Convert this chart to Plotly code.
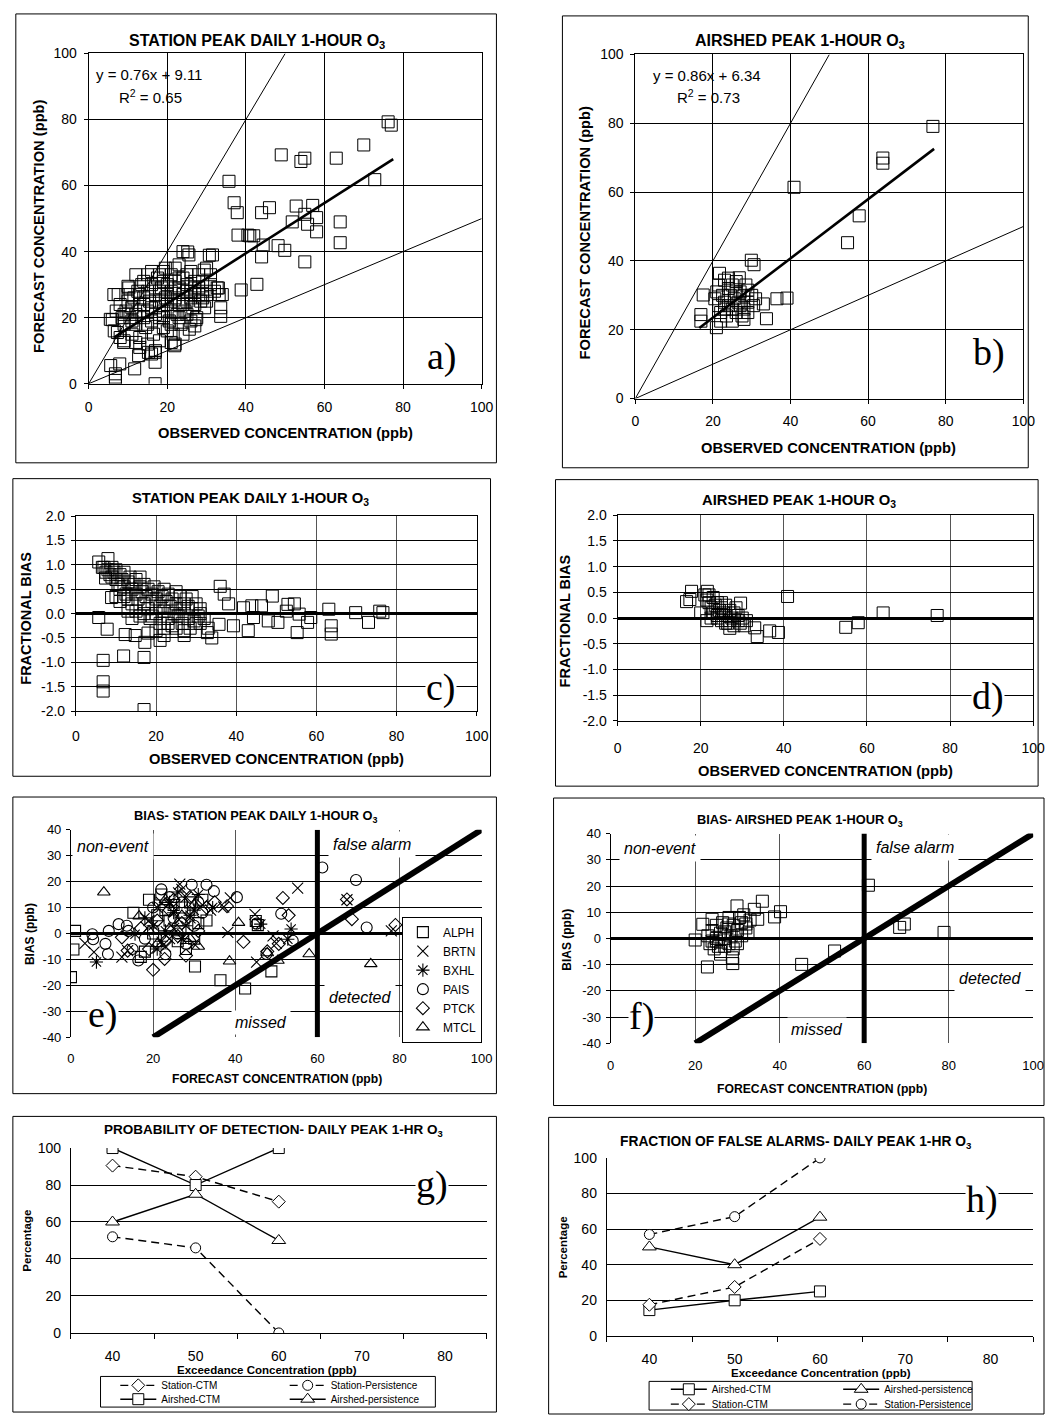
import plotly.graph_objects as go

W, H = 1057, 1423
FONT = "Liberation Sans"
SERIF = "Liberation Serif"

# ===================== DATA =====================
# (a) station peak daily 1-hour O3: (observed, forecast) in ppb
station_obs_fcst = [
    (76.2, 79.3), (77, 78.3), (70, 72.3), (72.8, 61.8), (49, 69.3), (54, 67.3), (55, 68.3),
    (63, 68.3), (35.7, 61.3), (37, 54.8), (37.8, 51.8), (44, 51.8), (46, 53.3), (52.8, 53.8),
    (57, 54), (51.8, 49), (55, 51.3), (55.7, 48.3), (58, 50.3), (58, 46), (64, 49), (64, 42.7),
    (38, 45), (40.5, 45), (41, 44.8), (42, 44.8), (44.4, 42), (48.2, 41.8), (49.9, 40.4),
    (44, 38.4), (55, 36.9), (42.8, 30.1), (38.8, 28.4), (30.7, 38.9), (25.2, 39.9), (33.2, 27),
    (33.6, 23), (33.6, 20.4), (32.7, 29), (29.4, 34.4), (6.8, 1), (6.8, 2), (6.8, 3), (5.6, 5.5),
    (7.9, 6), (11.7, 4.5), (12.7, 8.5), (15.2, 9.5), (16.9, 9.5), (16.9, 6.5), (16.9, 0),
    (8.9, 12.5), (6.4, 27), (6, 19.4), (7.3, 15.5), (21.9, 11.5), (21, 12.5), (10.2, 29),
    (25.6, 16.5), (27.3, 19.4),
    (5.5, 19.5), (6.5, 16), (7.5, 27), (7, 22), (8, 24), (8.5, 20), (9, 18), (9.5, 22), (10, 25),
    (10, 29.5), (10.5, 20), (11, 15), (11, 23), (11.5, 26), (12, 18), (12, 21), (12.5, 28),
    (13, 24), (13, 14), (13.5, 30), (14, 20), (14, 26), (14.5, 17), (15, 22), (15, 28), (15, 33),
    (15.5, 25), (16, 19), (16, 30), (16.5, 15), (17, 23), (17, 27), (17.5, 32), (18, 20), (18, 25),
    (18.5, 29), (19, 17), (19, 34), (19, 22), (19.5, 26), (20, 30), (20, 24), (20.5, 19), (21, 28),
    (21, 33), (21, 22), (21.5, 15), (22, 26), (22, 31), (22.5, 21), (23, 29), (23, 24), (23, 36),
    (23.5, 18), (24, 27), (24, 32), (24.5, 22), (25, 30), (25, 25), (25.5, 39), (26, 28), (26, 34),
    (26.5, 23), (27, 31), (27, 27), (27.5, 20), (28, 29), (28, 33), (28.5, 25), (29, 28),
    (29.5, 23), (30, 35), (30, 27), (31, 30), (31.5, 39), (32, 28), (27, 17.5), (26, 19), (22, 12),
    (18, 13), (13, 11), (12, 12.5), (14, 31), (16, 34), (24, 40), (19.5, 35), (17, 10), (20, 16),
    (24, 15), (18, 33), (22, 35), (25, 33), (29, 31), (33, 29), (34, 27), (9, 13), (8, 14),
    (12, 33), (10, 27), (15, 12), (16, 9), (23, 20), (27, 24), (30, 25), (31, 33),
    (9, 21), (11, 19), (13, 22), (14, 24), (16, 23), (17, 21), (18, 28), (19, 31), (20, 27),
    (21, 25), (22, 29), (23, 32), (24, 24), (25, 28), (26, 26), (27, 29), (28, 27), (29, 26),
    (15, 18), (19, 20), (21, 18), (13, 27), (17, 29), (25, 21),
]
station_fit = {"slope": 0.76, "intercept": 9.11, "r2": 0.65}
station_fit_x = [6.5, 77.5]

# (b) airshed peak 1-hour O3: (observed, forecast) in ppb
airshed_obs_fcst = [
    (76.7, 79.1), (63.8, 69.9), (63.8, 68.4), (40.9, 61.4), (57.7, 53.1), (54.7, 45.3),
    (29.9, 40.2), (30.6, 38.9), (36.5, 29), (39.1, 29.2), (33.8, 23.2), (33, 27.5), (17.5, 30.1),
    (16.9, 24.4), (16.9, 22.5), (20.9, 20.6), (21.7, 36.4), (23, 34.4), (26.8, 35.1),
    (20.5, 29), (21, 31), (21.5, 33), (21.5, 27), (22, 25), (22.5, 30), (23, 28), (23.5, 24),
    (24, 32), (24, 27), (24.5, 30), (25, 26), (25, 33), (25.5, 29), (26, 31), (26, 25), (26.5, 28),
    (27, 27), (27.5, 24), (28, 30), (28, 26), (28.5, 33), (29, 28), (29, 25), (30, 30),
    (30.5, 27), (31, 29), (24, 35), (26, 34), (28, 23), (25, 22.5), (22, 22.5), (27, 31),
    (23, 26), (29, 31.5),
]
airshed_fit = {"slope": 0.86, "intercept": 6.34, "r2": 0.73}
airshed_fit_x = [16.5, 77]

# reference lines (forecast = 2 x observed, forecast = 0.5 x observed)
ref_upper_x, ref_upper_y = [0, 50], [0, 100]
ref_lower_x, ref_lower_y = [0, 100], [0, 50]

# (c) station fractional bias: (observed ppb, fractional bias)
station_fb = [
    (5.7, 1.06), (8, 1.13), (6.6, 0.95), (7.4, 0.73), (8.9, 0.33), (5.7, -0.08), (7.8, -0.32),
    (12.3, -0.43), (14.8, -0.45), (17.2, -0.59), (6.8, -0.96), (11.9, -0.87), (17, -0.9),
    (6.8, -1.4), (6.8, -1.59), (17, -1.97), (36, 0.56), (37, 0.4), (38.1, 0.2), (39.3, -0.25),
    (35.7, -0.22), (32.8, -0.39), (33.9, -0.5), (41.8, 0.12), (43.9, 0.16), (46.3, 0.16),
    (43, -0.35), (44.3, -0.08), (48, -0.15), (49, 0.36), (50.4, -0.18), (52.5, 0.05),
    (52.9, 0.19), (54.5, 0.2), (55.2, -0.39), (55.7, -0.01), (57.8, -0.18), (58.6, -0.08),
    (63.1, 0.09), (63.7, -0.25), (63.7, -0.42), (69.8, 0.02), (73, -0.18), (75.8, 0.05),
    (76.6, 0.02),
    (7, 0.95), (7.5, 0.85), (8, 0.9), (8.5, 0.8), (9, 0.75), (9, 0.95), (9.5, 0.85), (10, 0.7),
    (10, 0.9), (10.5, 0.6), (11, 0.8), (11, 0.5), (11.5, 0.7), (12, 0.55), (12, 0.85), (12.5, 0.4),
    (13, 0.65), (13, 0.3), (13.5, 0.75), (14, 0.5), (14, 0.2), (14.5, 0.6), (15, 0.4), (15, 0.7),
    (15, 0.05), (15.5, 0.3), (16, 0.55), (16, -0.05), (16.5, 0.45), (17, 0.2), (17, 0.6),
    (17.5, 0.35), (18, 0.5), (18, 0.1), (18.5, -0.1), (19, 0.4), (19, 0.25), (19.5, 0.55),
    (20, 0.3), (20, 0.0), (20.5, 0.45), (21, 0.15), (21, -0.2), (21.5, 0.35), (22, 0.05),
    (22, 0.5), (22.5, 0.25), (23, -0.1), (23, 0.4), (23.5, 0.15), (24, 0.3), (24, -0.25),
    (24.5, 0.0), (25, 0.2), (25, 0.45), (25.5, -0.05), (26, 0.1), (26, 0.35), (26.5, -0.2),
    (27, 0.2), (27, 0.0), (27.5, 0.3), (28, -0.1), (28, 0.15), (28.5, -0.3), (29, 0.1),
    (29.5, -0.15), (30, 0.2), (30.5, -0.05), (31, 0.1), (31, -0.2), (32, -0.1), (12, 0.35),
    (13, 0.05), (14, -0.1), (17, 0.0), (19, -0.05), (22, -0.3), (22, -0.45), (21, -0.55),
    (27, -0.35), (27, -0.45), (18, -0.4), (20, -0.35), (16, 0.75), (11, 0.25), (10, 0.35),
    (25, -0.3), (23, -0.2), (29, 0.35), (31, 0.0), (33, -0.3), (30, -0.2),
]

# (d) airshed fractional bias: (observed ppb, fractional bias)
airshed_fb = [
    (17.8, 0.52), (17.4, 0.36), (16.6, 0.32), (21.6, 0.52), (29.6, 0.29), (40.9, 0.42),
    (33, -0.19), (33.6, -0.36), (36.6, -0.25), (38.7, -0.28), (54.9, -0.18), (57.9, -0.09),
    (63.9, 0.1), (76.9, 0.05),
    (20, 0.1), (21, 0.45), (21.5, 0.35), (21.5, -0.05), (22, 0.3), (22.5, 0.2), (22, 0.45),
    (23, 0.4), (23, 0.1), (23.5, 0.25), (24, 0.0), (24, 0.3), (24.5, 0.15), (25, 0.2),
    (25, -0.05), (25.5, 0.1), (26, 0.05), (26, 0.25), (26.5, -0.1), (27, 0.15), (27, -0.05),
    (27.5, 0.0), (28, 0.1), (28, -0.15), (28.5, 0.2), (29, -0.05), (29, 0.05), (29.5, -0.1),
    (30, 0.0), (30.5, -0.15), (31, -0.05), (27, -0.2), (26, -0.1), (24, 0.05), (25, 0.3),
    (22.5, 0.0),
]

# (e) station bias vs forecast: (forecast ppb, bias ppb) per station
bias_ALPH = [(1, 1), (0.6, -6.2), (0, -16.8), (15.2, 8), (30.2, -12.7), (36.4, -18), (42.4, -21.2),
             (48.8, -14.6), (45, 4.8), (45.5, 3.2), (19, 13), (22, 15), (17, -9), (24, 5), (27, 10),
             (31, 4), (33, 5), (20, 0), (26, -3), (23, 9), (29, 12), (18, -7), (28, -6), (21, 7),
             (25, 11), (30, -2), (32, 13)]
bias_BRTN = [(3.4, -3.8), (5.6, -7.2), (12.4, -9.1), (13.8, -6.6), (37.2, 10.2), (38.2, 0.4),
             (38.8, 13.7), (44.8, 7.4), (45.2, -11), (49.2, -0.9), (55.2, 17.5), (67.2, 13), (78, 1),
             (50, -3.8), (26.5, 19), (21, 10), (25, 2), (28, 14), (30, -4), (19, 5), (23, -5),
             (32, 11), (34, 9), (27, 17), (24, -2), (29, 6), (22, 12)]
bias_BXHL = [(6.2, -11), (53.6, 1.7), (52.8, -2.2), (46.2, 3.6), (34.5, 10), (15.6, -0.3), (20, 3),
             (24, 12), (27, -2), (29, 7), (22, -3), (31, 15), (26, 16), (18, 6), (25, 8), (28, 3),
             (21, -6), (30, 9), (23, 1)]
bias_PAIS = [(5.2, -0.3), (5.4, -2.2), (8.4, -4), (9, -7.9), (9.2, 1), (11.6, 3.6), (13.6, 3),
             (16.4, -10.4), (61.2, 25.4), (69.4, 20.6), (72, 2.3), (51.2, 7.6), (54, -2.8),
             (40.4, 14), (45.2, 3.8), (47.6, -7.9), (29.4, 18.8), (33, 18.8), (34.8, 16.3), (20, 10),
             (23, -8), (25, 6), (27, 12), (30, 3), (18, -2), (22, 17), (28, -4), (32, 8), (15, -6),
             (14, 1), (26, 0), (31, 12), (24, 14)]
bias_PTCK = [(12.4, -1.5), (13.8, -6.6), (20, -14), (22.8, -9.8), (28, -8.5), (42, -3.2),
             (51.6, 13.7), (53, 7), (47.8, -6.9), (50.6, -4), (67.2, 13.1), (68.4, 5.5), (79, 3.3),
             (38, 10.5), (17, 2), (21, 5), (24, 9), (26, -1), (29, 14), (31, 1), (19, -6), (25, 13),
             (33, 10), (27, 4), (23, -3), (35, 12)]
bias_MTCL = [(8, 15.9), (40.8, 4.2), (38.6, -10.7), (58, -7.9), (73, -11.7), (50.4, -10.4),
             (47.8, -7.5), (31, -5), (16.6, 6.7), (21, -4), (24, 2), (27, 7), (30, 11), (19, 1),
             (26, 4), (23, 13), (29, -2)]
station_names = ["ALPH", "BRTN", "BXHL", "PAIS", "PTCK", "MTCL"]

# (f) airshed bias vs forecast: (forecast ppb, bias ppb)
airshed_bias = [
    (61, 20.3), (68.4, 4.2), (69.5, 5.5), (78.9, 2.3), (53, -4.8), (45.2, -9.9),
    (20, -0.6), (21.8, 5.4), (22.9, -10.9), (23, 1), (23.5, -2), (24, 7.3), (24, 3), (24.5, -4),
    (25, 0), (25, 5), (25.5, -3), (26, 2), (26, -6), (26.5, 6), (27, 0), (27, -3), (27.5, 4),
    (28, 8), (28, -2), (28.5, 1), (28.8, -7.4), (28.9, -9.6), (29, 5), (29.5, -1), (29.9, 12.4),
    (30, 3), (30.5, 8), (31, 6), (31, 1), (31.5, 9), (32, 4), (32.5, 2), (33, 7), (34, 11.1),
    (34.8, 7.3), (35.9, 14.2), (38.8, 8.2), (40.2, 10.2), (25, -1), (27, 2.5), (29, -4),
    (26, -5), (24, -1), (28, 5.5), (30, -2), (32, 5.5),
]

# (e)/(f) exceedance threshold (60 ppb) and its decision diagonal
threshold_x, threshold_y = [60, 60], [-40, 40]
diagonal_x, diagonal_y = [20, 100], [-40, 40]

# (g) probability of detection and (h) fraction of false alarms (%)
exceed_conc = [40, 50, 60]
pod_station_ctm = [90.5, 84.5, 71]
pod_station_pers = [52, 46, 0]
pod_airshed_ctm = [100, 80, 100]
pod_airshed_pers = [60, 75, 50]
far_airshed_ctm = [14.5, 20, 25]
far_airshed_pers = [50, 40, 66.7]
far_station_ctm = [17.5, 27.5, 54.5]
far_station_pers = [57, 67, 100]

# tick labels (hyphen minus as in the original)
fb_ticks = [-2.0, -1.5, -1.0, -0.5, 0.0, 0.5, 1.0, 1.5, 2.0]
fb_ticklabels = ["-2.0", "-1.5", "-1.0", "-0.5", "0.0", "0.5", "1.0", "1.5", "2.0"]
bias_ticks = [-40, -30, -20, -10, 0, 10, 20, 30, 40]
bias_ticklabels = ["-40", "-30", "-20", "-10", "0", "10", "20", "30", "40"]

# ===================== HELPERS =====================
def xs(pairs):
    return [p[0] for p in pairs]

def ys(pairs):
    return [p[1] for p in pairs]

def px(x):
    return x / W

def py(y):
    return 1 - y / H

def dom_x(a, b):
    return [px(a), px(b)]

def dom_y(top, bottom):
    return [py(bottom), py(top)]

BLACK = "black"

def base_axis(**kw):
    d = dict(showline=True, linecolor=BLACK, linewidth=1, showgrid=True, gridcolor=BLACK,
             gridwidth=1, zeroline=False, ticks="outside", ticklen=4, tickcolor=BLACK,
             tickfont=dict(family=FONT, size=14, color=BLACK), fixedrange=True)
    d.update(kw)
    return d

annotations = []

def ann(x, y, text, size=14, bold=False, italic=False, family=FONT, angle=0, bg=None,
        pad=1, xanchor="center"):
    t = text
    if bold:
        t = "<b>" + t + "</b>"
    if italic:
        t = "<i>" + t + "</i>"
    a = dict(x=px(x), y=py(y), xref="paper", yref="paper", text=t, showarrow=False,
             xanchor=xanchor, yanchor="middle", textangle=angle, borderpad=pad,
             font=dict(family=family, size=size, color=BLACK))
    if bg:
        a["bgcolor"] = bg
    annotations.append(a)

fig = go.Figure()
layout = {}

square = dict(symbol="square-open", size=12, color=BLACK, line=dict(width=1, color=BLACK))

# ===================== (a) =====================
layout["xaxis"] = base_axis(domain=dom_x(86, 485), anchor="y", range=[0, 100], dtick=20,
                            mirror=True, ticklabelstandoff=6)
layout["yaxis"] = base_axis(domain=dom_y(46, 380), anchor="x", range=[0, 100], dtick=20,
                            mirror=True, ticklabelstandoff=4)
fig.add_trace(go.Scatter(x=ref_upper_x, y=ref_upper_y, mode="lines", line=dict(color=BLACK, width=1),
                         xaxis="x", yaxis="y", showlegend=False))
fig.add_trace(go.Scatter(x=ref_lower_x, y=ref_lower_y, mode="lines", line=dict(color=BLACK, width=1),
                         xaxis="x", yaxis="y", showlegend=False))
fig.add_trace(go.Scatter(x=xs(station_obs_fcst), y=ys(station_obs_fcst), mode="markers",
                         marker=square, xaxis="x", yaxis="y", showlegend=False))
fig.add_trace(go.Scatter(x=station_fit_x,
                         y=[station_fit["slope"] * v + station_fit["intercept"] for v in station_fit_x],
                         mode="lines", line=dict(color=BLACK, width=2.6), xaxis="x", yaxis="y",
                         showlegend=False))
ann(257, 34, "STATION PEAK DAILY 1-HOUR O<sub>3</sub>", size=16, bold=True)
ann(286, 430, "OBSERVED CONCENTRATION (ppb)", size=14.7, bold=True)
ann(35, 220, "FORECAST CONCENTRATION (ppb)", size=14.7, bold=True, angle=-90)
ann(147, 67, "y = %.2fx + %.2f" % (station_fit["slope"], station_fit["intercept"]), size=15)
ann(149, 90, "R<sup>2</sup> = %.2f" % station_fit["r2"], size=15)
ann(445, 352, "a)", size=38, family=SERIF)

# ===================== (b) =====================
layout["xaxis2"] = base_axis(domain=dom_x(641, 1035), anchor="y2", range=[0, 100], dtick=20,
                             mirror=True, ticklabelstandoff=6)
layout["yaxis2"] = base_axis(domain=dom_y(47, 395), anchor="x2", range=[0, 100], dtick=20,
                             mirror=True, ticklabelstandoff=4)
fig.add_trace(go.Scatter(x=ref_upper_x, y=ref_upper_y, mode="lines", line=dict(color=BLACK, width=1),
                         xaxis="x2", yaxis="y2", showlegend=False))
fig.add_trace(go.Scatter(x=ref_lower_x, y=ref_lower_y, mode="lines", line=dict(color=BLACK, width=1),
                         xaxis="x2", yaxis="y2", showlegend=False))
fig.add_trace(go.Scatter(x=xs(airshed_obs_fcst), y=ys(airshed_obs_fcst), mode="markers",
                         marker=square, xaxis="x2", yaxis="y2", showlegend=False))
fig.add_trace(go.Scatter(x=airshed_fit_x,
                         y=[airshed_fit["slope"] * v + airshed_fit["intercept"] for v in airshed_fit_x],
                         mode="lines", line=dict(color=BLACK, width=2.6), xaxis="x2", yaxis="y2",
                         showlegend=False))
ann(808, 34, "AIRSHED PEAK 1-HOUR O<sub>3</sub>", size=16, bold=True)
ann(837, 445, "OBSERVED CONCENTRATION (ppb)", size=14.7, bold=True)
ann(590, 227, "FORECAST CONCENTRATION (ppb)", size=14.7, bold=True, angle=-90)
ann(714, 68, "y = %.2fx + %.2f" % (airshed_fit["slope"], airshed_fit["intercept"]), size=15)
ann(715, 90, "R<sup>2</sup> = %.2f" % airshed_fit["r2"], size=15)
ann(1000, 348, "b)", size=38, family=SERIF)

# ===================== (c) =====================
layout["xaxis3"] = base_axis(domain=dom_x(73, 480), anchor="y3", range=[0, 100], dtick=20,
                             mirror=True, gridcolor="#555", ticklabelstandoff=8)
layout["yaxis3"] = base_axis(domain=dom_y(514, 711), anchor="x3", range=[-2, 2],
                             tickmode="array", tickvals=fb_ticks, ticktext=fb_ticklabels,
                             mirror=True, zeroline=True, zerolinecolor=BLACK,
                             zerolinewidth=2.6, ticklabelstandoff=3)
fig.add_trace(go.Scatter(x=xs(station_fb), y=ys(station_fb), mode="markers", marker=square,
                         xaxis="x3", yaxis="y3", showlegend=False))
ann(250, 497, "STATION PEAK DAILY 1-HOUR O<sub>3</sub>", size=14.8, bold=True)
ann(277, 760, "OBSERVED CONCENTRATION (ppb)", size=14.7, bold=True)
ann(22, 617, "FRACTIONAL BIAS", size=14.5, bold=True, angle=-90)
ann(444, 687, "c)", size=38, family=SERIF, bg="white", pad=0)

# ===================== (d) =====================
layout["xaxis4"] = base_axis(domain=dom_x(623, 1045), anchor="y4", range=[0, 100], dtick=20,
                             mirror=True, gridcolor="#555", ticklabelstandoff=10)
layout["yaxis4"] = base_axis(domain=dom_y(513, 721), anchor="x4", range=[-2, 2],
                             tickmode="array", tickvals=fb_ticks, ticktext=fb_ticklabels,
                             mirror=True, zeroline=True, zerolinecolor=BLACK,
                             zerolinewidth=2.6, ticklabelstandoff=3)
fig.add_trace(go.Scatter(x=xs(airshed_fb), y=ys(airshed_fb), mode="markers", marker=square,
                         xaxis="x4", yaxis="y4", showlegend=False))
ann(807, 499, "AIRSHED PEAK 1-HOUR O<sub>3</sub>", size=14.8, bold=True)
ann(834, 772, "OBSERVED CONCENTRATION (ppb)", size=14.7, bold=True)
ann(570, 620, "FRACTIONAL BIAS", size=14.5, bold=True, angle=-90)
ann(999, 696, "d)", size=38, family=SERIF, bg="white", pad=0)

# ===================== (e) =====================
layout["xaxis5"] = base_axis(domain=dom_x(68, 485), anchor="y5", range=[0, 100], dtick=20,
                             gridcolor="#555", showline=False, ticks="",
                             tickfont=dict(family=FONT, size=13, color=BLACK), ticklabelstandoff=12)
layout["yaxis5"] = base_axis(domain=dom_y(831, 1041), anchor="x5", range=[-40, 40],
                             tickmode="array", tickvals=bias_ticks, ticktext=bias_ticklabels,
                             zeroline=True, zerolinecolor=BLACK, zerolinewidth=2.6,
                             tickfont=dict(family=FONT, size=13, color=BLACK), ticklabelstandoff=2)
e_symbols = {"ALPH": "square-open", "BRTN": "x-thin-open", "BXHL": "asterisk-open",
             "PAIS": "circle-open", "PTCK": "diamond-open", "MTCL": "triangle-up-open"}
e_data = {"ALPH": bias_ALPH, "BRTN": bias_BRTN, "BXHL": bias_BXHL, "PAIS": bias_PAIS,
          "PTCK": bias_PTCK, "MTCL": bias_MTCL}
e_sizes = {"ALPH": 11, "BRTN": 11, "BXHL": 11, "PAIS": 11, "PTCK": 10, "MTCL": 11}
fig.add_trace(go.Scatter(x=threshold_x, y=threshold_y, mode="lines", line=dict(color=BLACK, width=5),
                         xaxis="x5", yaxis="y5", showlegend=False))
fig.add_trace(go.Scatter(x=diagonal_x, y=diagonal_y, mode="lines", line=dict(color=BLACK, width=6),
                         xaxis="x5", yaxis="y5", showlegend=False))
for name in station_names:
    pts = e_data[name]
    fig.add_trace(go.Scatter(x=xs(pts), y=ys(pts), mode="markers", name=name,
                             marker=dict(symbol=e_symbols[name], size=e_sizes[name], color=BLACK,
                                         line=dict(width=1.1, color=BLACK)),
                             xaxis="x5", yaxis="y5", showlegend=True, legend="legend"))
ann(255, 818, "BIAS- STATION PEAK DAILY 1-HOUR O<sub>3</sub>", size=12.8, bold=True)
ann(277, 1083, "FORECAST CONCENTRATION (ppb)", size=12.2, bold=True)
ann(27, 937, "BIAS (ppb)", size=12, bold=True, angle=-90)
ann(111, 848, "non-event", size=16, italic=True, bg="white", pad=4)
ann(374, 846, "false alarm", size=16, italic=True, bg="white", pad=4)
ann(361, 1001, "detected", size=16, italic=True, bg="white", pad=4)
ann(261, 1026, "missed", size=16, italic=True, bg="white", pad=3)
ann(101, 1018, "e)", size=38, family=SERIF, bg="white", pad=0)

# ===================== (f) =====================
layout["xaxis6"] = base_axis(domain=dom_x(616, 1045), anchor="y6", range=[0, 100], dtick=20,
                             gridcolor="#555", showline=False, ticks="",
                             tickfont=dict(family=FONT, size=13, color=BLACK), ticklabelstandoff=13)
layout["yaxis6"] = base_axis(domain=dom_y(835, 1047), anchor="x6", range=[-40, 40],
                             tickmode="array", tickvals=bias_ticks, ticktext=bias_ticklabels,
                             zeroline=True, zerolinecolor=BLACK, zerolinewidth=2.6,
                             tickfont=dict(family=FONT, size=13, color=BLACK), ticklabelstandoff=2)
fig.add_trace(go.Scatter(x=threshold_x, y=threshold_y, mode="lines", line=dict(color=BLACK, width=5),
                         xaxis="x6", yaxis="y6", showlegend=False))
fig.add_trace(go.Scatter(x=diagonal_x, y=diagonal_y, mode="lines", line=dict(color=BLACK, width=6),
                         xaxis="x6", yaxis="y6", showlegend=False))
fig.add_trace(go.Scatter(x=xs(airshed_bias), y=ys(airshed_bias), mode="markers", marker=square,
                         xaxis="x6", yaxis="y6", showlegend=False))
ann(808, 822, "BIAS- AIRSHED PEAK 1-HOUR O<sub>3</sub>", size=12.8, bold=True)
ann(831, 1093, "FORECAST CONCENTRATION (ppb)", size=12.2, bold=True)
ann(572, 942, "BIAS (ppb)", size=12, bold=True, angle=-90)
ann(666, 850, "non-event", size=16, italic=True, bg="white", pad=4)
ann(925, 849, "false alarm", size=16, italic=True, bg="white", pad=4)
ann(1001, 982, "detected", size=16, italic=True, bg="white", pad=4)
ann(826, 1033, "missed", size=16, italic=True, bg="white", pad=3)
ann(647, 1020, "f)", size=38, family=SERIF, bg="white", pad=0)

# ===================== (g) & (h) =====================
cat_minor = dict(tickmode="array", tickvals=[35, 45, 55, 65, 75, 85], ticks="outside", ticklen=5,
                 tickcolor=BLACK, showgrid=False)
for idx, (xd, yd, so) in {7: ((68, 490), (1153, 1340), 10), 8: ((612, 1045), (1163, 1343), 10)}.items():
    layout["xaxis%d" % idx] = base_axis(domain=dom_x(*xd), anchor="y%d" % idx, range=[35, 85],
                                        tickmode="array", tickvals=[40, 50, 60, 70, 80], ticks="",
                                        showgrid=False, minor=cat_minor, ticklabelstandoff=so)
    layout["yaxis%d" % idx] = base_axis(domain=dom_y(*yd), anchor="x%d" % idx, range=[0, 100],
                                        dtick=20, ticks="", ticklabelstandoff=6)

def line_trace(xa, ya, yvals, name, dash, symbol, size, leg):
    return go.Scatter(x=exceed_conc, y=yvals, mode="lines+markers", name=name,
                      line=dict(color=BLACK, width=1.4, dash=dash),
                      marker=dict(symbol=symbol, size=size, color="white",
                                  line=dict(color=BLACK, width=1)),
                      xaxis=xa, yaxis=ya, showlegend=True, legend=leg)

DASH = "8px,5px"
fig.add_trace(line_trace("x7", "y7", pod_station_ctm, "Station-CTM", DASH, "diamond", 10, "legend2"))
fig.add_trace(line_trace("x7", "y7", pod_station_pers, "Station-Persistence", DASH, "circle", 10, "legend3"))
fig.add_trace(line_trace("x7", "y7", pod_airshed_ctm, "Airshed-CTM", "solid", "square", 11, "legend4"))
fig.add_trace(line_trace("x7", "y7", pod_airshed_pers, "Airshed-persistence", "solid", "triangle-up", 12, "legend5"))
fig.add_trace(line_trace("x8", "y8", far_airshed_ctm, "Airshed-CTM", "solid", "square", 11, "legend6"))
fig.add_trace(line_trace("x8", "y8", far_airshed_pers, "Airshed-persistence", "solid", "triangle-up", 12, "legend7"))
fig.add_trace(line_trace("x8", "y8", far_station_ctm, "Station-CTM", DASH, "diamond", 10, "legend8"))
fig.add_trace(line_trace("x8", "y8", far_station_pers, "Station-Persistence", DASH, "circle", 10, "legend9"))

ann(274, 1135, "PROBABILITY OF DETECTION- DAILY PEAK 1-HR O<sub>3</sub>", size=13.5, bold=True)
ann(267, 1377, "Exceedance Concentration (ppb)", size=11.5, bold=True)
ann(23, 1247, "Percentage", size=11.5, bold=True, angle=-90)
ann(435, 1190, "g)", size=38, family=SERIF, bg="white", pad=0)
ann(804, 1147, "FRACTION OF FALSE ALARMS- DAILY PEAK 1-HR O<sub>3</sub>", size=13.8, bold=True)
ann(830, 1381, "Exceedance Concentration (ppb)", size=11.5, bold=True)
ann(567, 1253, "Percentage", size=11.5, bold=True, angle=-90)
ann(993, 1205, "h)", size=38, family=SERIF, bg="white", pad=0)

# ===================== LEGENDS =====================
layout["legend"] = dict(x=px(404), y=py(919), xanchor="left", yanchor="top", bgcolor="white",
                        bordercolor=BLACK, borderwidth=1, itemwidth=30, tracegroupgap=0,
                        font=dict(family=FONT, size=12, color=BLACK))

def small_leg(x, y):
    return dict(x=px(x), y=py(y), xanchor="left", yanchor="middle", orientation="h",
                bgcolor="rgba(0,0,0,0)", borderwidth=0, itemwidth=36,
                font=dict(family=FONT, size=10, color=BLACK))

layout["legend2"] = small_leg(113, 1393)
layout["legend3"] = small_leg(285, 1393)
layout["legend4"] = small_leg(113, 1407)
layout["legend5"] = small_leg(285, 1407)
layout["legend6"] = small_leg(672, 1397)
layout["legend7"] = small_leg(847, 1397)
layout["legend8"] = small_leg(672, 1412)
layout["legend9"] = small_leg(847, 1412)

# ===================== PANEL FRAMES =====================
shapes = []
frames = [(12, 6, 500, 460), (567, 8, 1040, 465), (9, 476, 494, 777), (560, 477, 1050, 787),
          (9, 798, 500, 1098), (558, 799, 1056, 1110), (9, 1121, 500, 1420), (553, 1122, 1056, 1422),
          (98, 1384, 438, 1415), (655, 1389, 983, 1418)]
for (x0, y0, x1, y1) in frames:
    shapes.append(dict(type="rect", xref="paper", yref="paper", x0=px(x0), x1=px(x1),
                       y0=py(y1), y1=py(y0), line=dict(color=BLACK, width=1), layer="below"))

layout.update(dict(width=W, height=H, margin=dict(l=0, r=0, t=0, b=0), paper_bgcolor="white",
                   plot_bgcolor="white", annotations=annotations, shapes=shapes,
                   font=dict(family=FONT, color=BLACK)))
fig.update_layout(**layout)
fig.write_html("out.html", include_plotlyjs=True, config={"displayModeBar": False},
               post_script="document.body.style.margin='0px';document.body.style.overflow='hidden';"
                           "document.documentElement.style.overflow='hidden';")
